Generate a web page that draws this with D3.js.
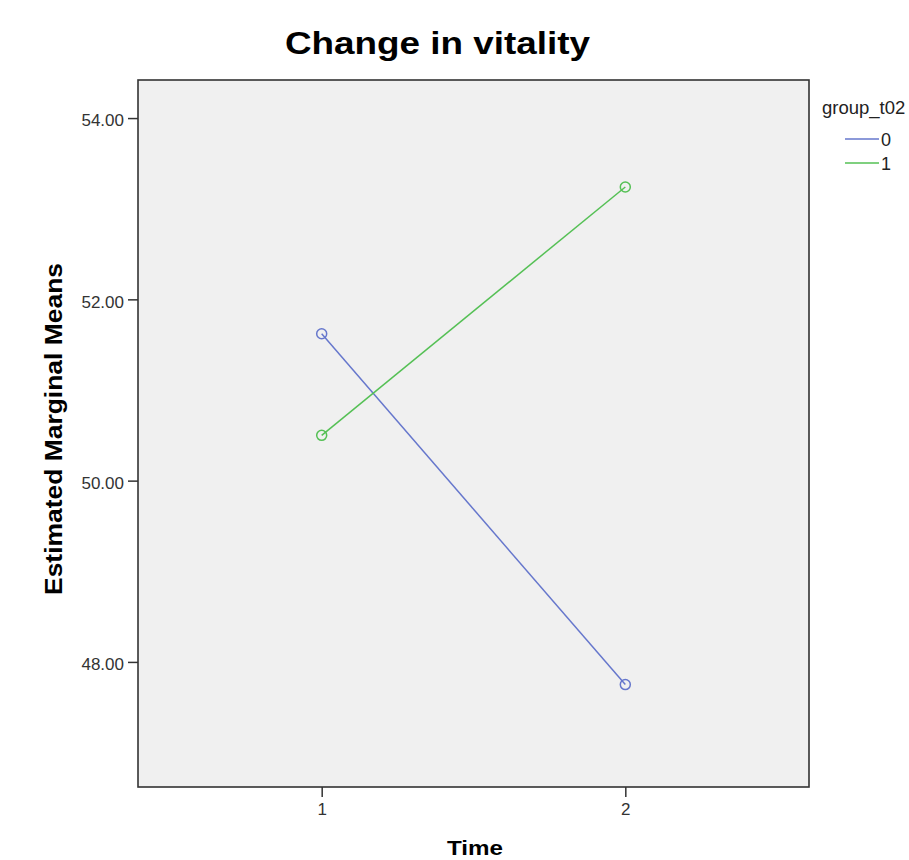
<!DOCTYPE html>
<html>
<head>
<meta charset="utf-8">
<script src="https://cdn.jsdelivr.net/npm/d3@7"></script>
<style>
  body { margin: 0; background: #fff; }
  svg text { font-family: "Liberation Sans", Arial, sans-serif; }
</style>
</head>
<body>
<div id="chart"></div>
<script>
var times = [1, 2];
var groups = ['0', '1'];
var group0 = [51.62, 47.75];
var group1 = [50.50, 53.24];
var yTicks = [48, 50, 52, 54];
var colors = ['#6677cc', '#55c055'];

var width = 909, height = 860;
var margins = {top: 80, left: 138, right: 100, bottom: 73};

var svg = d3.select('#chart').append('svg')
  .attr('width', width)
  .attr('height', height);

var x = d3.scaleLinear().domain([0.395, 2.605])
  .range([margins.left, width - margins.right]);
var y = d3.scaleLinear().domain([46.62, 54.42])
  .range([height - margins.bottom, margins.top]);

// plot background
svg.append('rect')
  .attr('x', margins.left)
  .attr('y', margins.top)
  .attr('width', width - margins.left - margins.right)
  .attr('height', height - margins.top - margins.bottom)
  .attr('fill', '#f0f0f0')
  .attr('stroke', '#333')
  .attr('stroke-width', 1.6);

var yAxis = d3.axisLeft(y).tickValues(yTicks)
  .tickSize(10).tickSizeOuter(0)
  .tickFormat(d3.format('.2f'));
var xAxis = d3.axisBottom(x).tickValues(times)
  .tickSize(10).tickSizeOuter(0)
  .tickFormat(d3.format('d'));

var yG = svg.append('g')
  .attr('transform', 'translate(' + margins.left + ',0)')
  .call(yAxis);
var xG = svg.append('g')
  .attr('transform', 'translate(0,' + (height - margins.bottom) + ')')
  .call(xAxis);

[yG, xG].forEach(function (g) {
  g.select('.domain').remove();
  g.selectAll('.tick line').attr('stroke', '#333').attr('stroke-width', 1.5);
  g.selectAll('.tick text')
    .attr('fill', '#333')
    .style('font-size', '17px')
    .style('font-family', '"Liberation Sans", Arial, sans-serif');
});
yG.selectAll('.tick text').attr('x', -14).attr('dy', '0.45em');
xG.selectAll('.tick text').attr('y', 16);

// series
var series = [group0, group1];
var line = d3.line()
  .x(function (d, i) { return x(times[i]); })
  .y(function (d) { return y(d); });

series.forEach(function (vals, k) {
  svg.append('path')
    .datum(vals)
    .attr('d', line)
    .attr('fill', 'none')
    .attr('stroke', colors[k])
    .attr('stroke-width', 1.5);
  svg.selectAll('circle.g' + k)
    .data(vals)
    .enter().append('circle')
    .attr('class', 'g' + k)
    .attr('cx', function (d, i) { return x(times[i]); })
    .attr('cy', function (d) { return y(d); })
    .attr('r', 5)
    .attr('fill', 'none')
    .attr('stroke', colors[k])
    .attr('stroke-width', 1.5);
});

// title and axis labels
svg.append('text')
  .attr('x', 285).attr('y', 54)
  .attr('textLength', 305).attr('lengthAdjust', 'spacingAndGlyphs')
  .style('font-size', '31px').style('font-weight', 'bold')
  .text('Change in vitality');

svg.append('text')
  .attr('x', 447).attr('y', 855)
  .attr('textLength', 56).attr('lengthAdjust', 'spacingAndGlyphs')
  .style('font-size', '21px').style('font-weight', 'bold')
  .text('Time');

svg.append('text')
  .attr('transform', 'translate(62,595) rotate(-90)')
  .attr('textLength', 332).attr('lengthAdjust', 'spacingAndGlyphs')
  .style('font-size', '24px').style('font-weight', 'bold')
  .text('Estimated Marginal Means');

// legend
var legend = svg.append('g').attr('transform', 'translate(822,0)');
legend.append('text')
  .attr('x', 0).attr('y', 114)
  .style('font-size', '18.5px').attr('fill', '#222')
  .text('group_t02');
groups.forEach(function (g, k) {
  var ly = 139 + k * 24;
  legend.append('line')
    .attr('x1', 23).attr('x2', 57)
    .attr('y1', ly).attr('y2', ly)
    .attr('stroke', colors[k]).attr('stroke-width', 1.5);
  legend.append('text')
    .attr('x', 59).attr('y', ly + 7)
    .style('font-size', '18px').attr('fill', '#222')
    .text(g);
});
</script>
</body>
</html>
